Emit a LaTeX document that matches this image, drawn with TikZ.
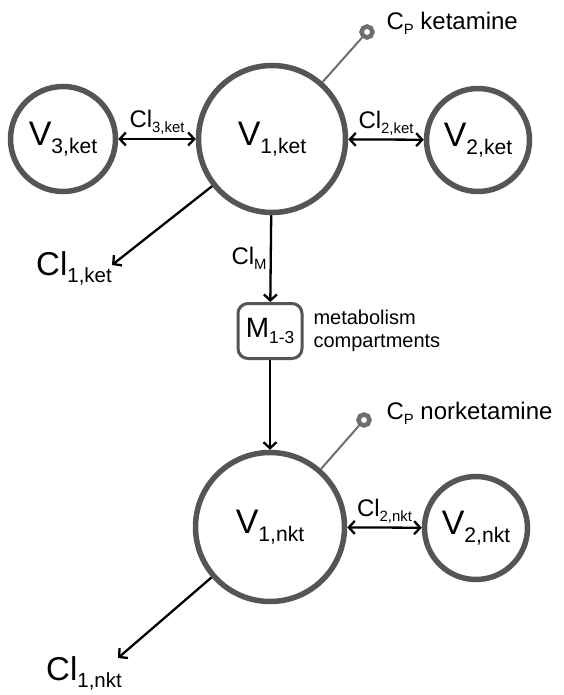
\documentclass[tikz,border=0pt]{standalone}
\usepackage{fontspec}
\setmainfont{Liberation Sans}
\usetikzlibrary{arrows.meta}
\definecolor{ringgray}{RGB}{85,85,85}
\definecolor{pingray}{RGB}{110,110,110}
\newcommand{\lo}[1]{\raisebox{-0.22em}{\scalebox{0.62}{#1}}}

\begin{document}
\begin{tikzpicture}[x=1pt,y=-1pt,>={Straight Barb[length=6pt,width=13pt]},
    pool/.style={circle,draw=ringgray,line width=5.5pt,fill=white,inner sep=0pt,font=\fontsize{34}{40}\selectfont},
    flow/.style={line width=2.3pt,->},
    swap/.style={line width=2.3pt,<->},
    rate/.style={font=\fontsize{24}{28}\selectfont,inner sep=3pt},
    probe/.style={circle,draw=pingray,line width=4.5pt,fill=white,inner sep=0pt,minimum size=11pt}]
    \useasboundingbox (0,0) rectangle (563,695);
    % ketamine
    \node[pool,minimum size=147pt] (v1ket) at (272,139) {V\lo{1,ket}};
    \node[pool,minimum size=103pt] (v2ket) at (478,140) {V\lo{2,ket}};
    \node[pool,minimum size=105pt] (v3ket) at (63,139) {V\lo{3,ket}};
    \node[probe] (cpket) at (367,32) {};
    \node[anchor=west,font=\fontsize{24}{28}\selectfont] at (383,23) {C\lo{P} ketamine};
    \draw[pingray,line width=2pt] (v1ket) -- (cpket);
    \draw[swap] (v3ket) -- node[rate,above] {Cl\lo{3,ket}} (v1ket);
    \draw[swap] (v1ket) -- node[rate,above] {Cl\lo{2,ket}} (v2ket);
    \coordinate (cl1ket) at (112,265);
    \draw[flow] (v1ket) -- (cl1ket);
    \node[font=\fontsize{33}{38}\selectfont] at (74,268) {Cl\lo{1,ket}};
    % metabolism
    \node[draw=ringgray,line width=3pt,rounded corners=10pt,minimum width=64pt,minimum height=55pt,
          font=\fontsize{28}{32}\selectfont,inner sep=2pt] (m13) at (270,331) {M\lo{1-3}};
    \node[anchor=west,align=left,font=\fontsize{20}{23}\selectfont] at (310,331) {metabolism\\compartments};
    \draw[flow] (v1ket) -- node[rate,left] {Cl\lo{M}} (m13);
    % norketamine
    \node[pool,minimum size=149pt] (v1nkt) at (270,527) {V\lo{1,nkt}};
    \node[pool,minimum size=103pt] (v2nkt) at (476,528) {V\lo{2,nkt}};
    \node[probe] (cpnkt) at (364,420) {};
    \node[anchor=west,font=\fontsize{24}{28}\selectfont] at (383,413) {C\lo{P} norketamine};
    \draw[pingray,line width=2pt] (v1nkt) -- (cpnkt);
    \draw[flow] (m13) -- (v1nkt);
    \draw[swap] (v1nkt) -- node[rate,above] {Cl\lo{2,nkt}} (v2nkt);
    \coordinate (cl1nkt) at (118,658);
    \draw[flow] (v1nkt) -- (cl1nkt);
    \node[font=\fontsize{33}{38}\selectfont] at (84,673) {Cl\lo{1,nkt}};
\end{tikzpicture}
\end{document}
